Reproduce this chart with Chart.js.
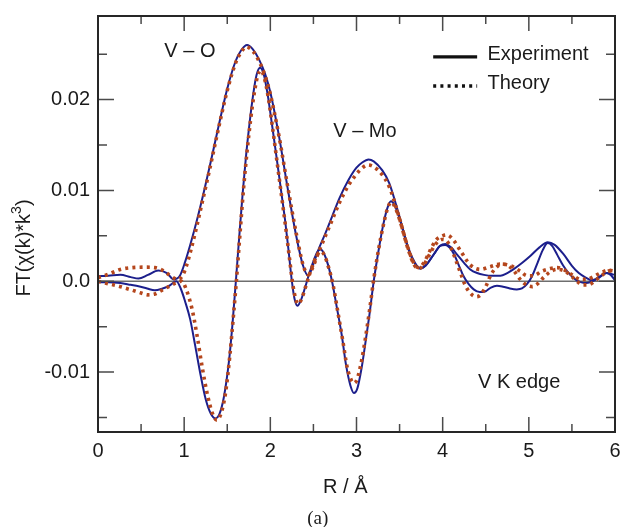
<!DOCTYPE html>
<html><head><meta charset="utf-8">
<script src="https://cdn.jsdelivr.net/npm/chart.js@4.4.1/dist/chart.umd.min.js"></script>
<style>html,body{margin:0;padding:0;background:#fff;} canvas{display:block;}</style>
</head><body>
<canvas id="c" width="621" height="527"></canvas>
<script>
// ---------- data ----------
const expMagR = [0,0.12,0.26,0.38,0.47,0.58,0.70,0.80,0.88,0.95,1.01,1.1,1.2,1.3,1.4,1.5,1.6,1.66,1.73,1.8,1.87,1.94,2.0,2.1,2.2,2.3,2.38,2.44,2.5,2.56,2.64,2.72,2.8,2.91,3.0,3.07,3.14,3.2,3.3,3.38,3.49,3.6,3.68,3.74,3.8,3.9,3.97,4.03,4.1,4.17,4.25,4.32,4.4,4.48,4.57,4.67,4.75,4.82,4.92,5.02,5.12,5.22,5.3,5.4,5.5,5.58,5.66,5.73,5.8,5.9,6.0];
const expMagV = [0.00055,0.0006,0.0007,0.00045,0.0003,0.0007,0.00118,0.0009,0.0002,0.0006,0.0021,0.0050,0.0087,0.0128,0.0171,0.0212,0.0243,0.0254,0.0260,0.0255,0.0244,0.0228,0.0208,0.0160,0.0103,0.0050,0.0017,0.0006,0.0019,0.0035,0.0053,0.0072,0.0091,0.0112,0.0125,0.0131,0.0134,0.0132,0.0122,0.0108,0.0074,0.0037,0.0020,0.0014,0.0017,0.0030,0.0039,0.0041,0.0037,0.0029,0.0020,0.0013,0.0009,0.0007,0.0006,0.0006,0.0009,0.0013,0.0020,0.0028,0.0037,0.0043,0.0040,0.0030,0.0017,0.0009,0.0004,0.0001,0.0003,0.0009,0.0007];

const expImR = [0,0.12,0.26,0.38,0.47,0.57,0.66,0.75,0.82,0.91,0.96,1.01,1.07,1.13,1.19,1.25,1.31,1.36,1.41,1.46,1.52,1.56,1.6,1.64,1.68,1.72,1.76,1.8,1.84,1.88,1.92,1.97,2.02,2.06,2.12,2.17,2.21,2.25,2.28,2.315,2.35,2.4,2.45,2.5,2.55,2.585,2.62,2.67,2.72,2.77,2.83,2.88,2.93,2.97,3.01,3.06,3.1,3.15,3.2,3.26,3.31,3.36,3.4,3.44,3.5,3.6,3.68,3.74,3.8,3.9,3.97,4.03,4.08,4.13,4.19,4.24,4.3,4.36,4.43,4.5,4.56,4.63,4.7,4.78,4.86,4.92,4.98,5.04,5.1,5.16,5.22,5.27,5.33,5.4,5.47,5.54,5.6,5.67,5.74,5.82,5.9,5.95,6.0];
const expImV = [-0.0001,-0.0001,-0.0002,-0.0004,-0.00055,-0.0008,-0.0010,-0.0008,-0.00055,0.0,-0.0008,-0.0022,-0.0042,-0.0072,-0.0103,-0.0130,-0.0146,-0.0151,-0.0146,-0.0128,-0.0088,-0.0048,0.0,0.0050,0.0098,0.0140,0.0175,0.0205,0.0227,0.0235,0.0229,0.0205,0.0172,0.0145,0.0103,0.0068,0.0035,0.0,-0.0019,-0.0027,-0.0022,-0.0008,0.0008,0.0022,0.0033,0.0035,0.0031,0.0018,-0.0002,-0.0028,-0.0060,-0.0093,-0.0115,-0.0123,-0.0118,-0.0095,-0.0070,-0.0037,0.0,0.0036,0.0062,0.0081,0.0088,0.0084,0.0069,0.0036,0.0019,0.0014,0.0017,0.0030,0.0039,0.0040,0.0037,0.0030,0.0017,0.0006,-0.0003,-0.0009,-0.0012,-0.0011,-0.0007,-0.0005,-0.0006,-0.0008,-0.0009,-0.0008,-0.0003,0.0006,0.0020,0.0034,0.0042,0.0039,0.0029,0.0017,0.0008,0.0002,-0.0001,-0.0002,0.0,0.0005,0.0009,0.0007,0.0001];

const thMagR = [0,0.13,0.26,0.4,0.55,0.66,0.75,0.84,0.92,0.98,1.03,1.08,1.15,1.2,1.3,1.4,1.5,1.6,1.66,1.72,1.8,1.87,1.94,2.0,2.1,2.2,2.3,2.38,2.44,2.5,2.56,2.64,2.72,2.8,2.91,3.0,3.07,3.13,3.2,3.3,3.38,3.49,3.6,3.67,3.72,3.78,3.85,3.92,4.0,4.05,4.12,4.21,4.32,4.44,4.55,4.67,4.79,4.9,4.98,5.05,5.15,5.25,5.33,5.42,5.52,5.6,5.67,5.75,5.85,5.92,6.0];
const thMagV = [0.0004,0.0008,0.0013,0.0015,0.00155,0.0015,0.0012,0.0006,0.0002,0.0006,0.0018,0.0035,0.0062,0.0083,0.0125,0.0169,0.0210,0.0241,0.0252,0.0258,0.0253,0.0242,0.0226,0.0206,0.0160,0.0105,0.0053,0.0018,0.0007,0.0017,0.0032,0.0050,0.0068,0.0086,0.0106,0.0118,0.0125,0.0128,0.0126,0.0117,0.0104,0.0072,0.0036,0.0019,0.0015,0.0020,0.0033,0.0045,0.0050,0.0051,0.0046,0.0033,0.0018,0.0013,0.0016,0.0019,0.0017,0.0011,0.0006,0.0006,0.0011,0.0014,0.0015,0.0012,0.0006,0.0002,0.0002,0.0005,0.0010,0.0012,0.0011];

const thImR = [0,0.13,0.26,0.4,0.5,0.58,0.66,0.74,0.82,0.9,0.97,1.02,1.09,1.15,1.21,1.27,1.33,1.38,1.43,1.48,1.53,1.57,1.61,1.65,1.69,1.73,1.77,1.81,1.85,1.89,1.93,1.98,2.03,2.08,2.13,2.18,2.22,2.26,2.29,2.32,2.36,2.41,2.46,2.51,2.55,2.59,2.63,2.68,2.73,2.78,2.84,2.89,2.94,2.975,3.01,3.06,3.1,3.15,3.2,3.26,3.31,3.36,3.4,3.44,3.5,3.6,3.67,3.72,3.78,3.85,3.92,3.99,4.04,4.09,4.15,4.2,4.26,4.32,4.39,4.44,4.5,4.56,4.62,4.69,4.76,4.83,4.9,4.97,5.04,5.1,5.18,5.26,5.33,5.42,5.5,5.57,5.63,5.69,5.76,5.84,5.92,6.0];
const thImV = [0.0,-0.0003,-0.0006,-0.0010,-0.0013,-0.0015,-0.0014,-0.0010,-0.0006,-0.0002,0.0,-0.0008,-0.0030,-0.0060,-0.0095,-0.0125,-0.0146,-0.0153,-0.0145,-0.0123,-0.0082,-0.0040,0.0005,0.0055,0.0103,0.0143,0.0177,0.0205,0.0225,0.0232,0.0224,0.0200,0.0166,0.0130,0.0094,0.0058,0.0027,-0.0003,-0.0018,-0.0025,-0.0020,-0.0006,0.0009,0.0022,0.0030,0.0033,0.0028,0.0014,-0.0005,-0.0032,-0.0065,-0.0094,-0.0109,-0.0112,-0.0107,-0.0087,-0.0065,-0.0033,0.0002,0.0037,0.0061,0.0080,0.0087,0.0083,0.0068,0.0035,0.0018,0.0014,0.0018,0.0030,0.0041,0.0046,0.0045,0.0038,0.0024,0.0011,-0.0004,-0.0013,-0.0017,-0.0015,-0.0006,0.0007,0.0015,0.0019,0.0017,0.0011,0.0002,-0.0004,-0.0006,-0.0003,0.0005,0.0011,0.0013,0.0011,0.0005,-0.0001,-0.0004,-0.0004,0.0,0.0006,0.0011,0.0012];

const seriesNames = ['Experiment','Theory'];
const xTickValues = [0,1,2,3,4,5,6];
const xTickLabels = ['0','1','2','3','4','5','6'];
const yTickValues = [-0.01,0,0.01,0.02];
const yTickLabels = ['-0.01','0.0','0.01','0.02'];
const peakLabels = ['V \u2013 O','V \u2013 Mo','V K edge'];
const xTitle = 'R / \u00C5';
const caption = '(a)';

// ---------- styling ----------
const BLUE = '#1c1f8c';
const BROWN = '#b5461c';
const FONT = '"Liberation Sans", Arial, Helvetica, sans-serif';
const pts = (r, v) => r.map((x, i) => ({x: x, y: v[i]}));

const solid = {borderColor: BLUE, borderWidth: 2, pointRadius: 0, fill: false, cubicInterpolationMode: 'monotone', order: 1};
const dotted = {borderColor: BROWN, borderWidth: 3.6, borderDash: [3, 4.2], borderCapStyle: 'butt', pointRadius: 0, fill: false, cubicInterpolationMode: 'monotone', order: 0};

const decor = {
  id: 'decor',
  beforeDatasetsDraw(chart) {
    const {ctx, chartArea: a, scales: {y}} = chart;
    const y0 = y.getPixelForValue(0);
    ctx.save();
    ctx.strokeStyle = '#6e6e6e'; ctx.lineWidth = 1.5;
    ctx.beginPath(); ctx.moveTo(a.left, y0); ctx.lineTo(a.right, y0); ctx.stroke();
    ctx.restore();
  },
  afterDatasetsDraw(chart) {
    const {ctx, chartArea: a, scales: {x, y}} = chart;
    ctx.save();
    // inward ticks
    ctx.strokeStyle = '#4a4a4a'; ctx.lineWidth = 1.5;
    ctx.beginPath();
    for (let i = 0; i <= 12; i++) {
      const px = x.getPixelForValue(i * 0.5);
      const L = (i % 2 === 0) ? 15 : 8;
      ctx.moveTo(px, a.bottom); ctx.lineTo(px, a.bottom - L);
      ctx.moveTo(px, a.top); ctx.lineTo(px, a.top + L);
    }
    for (let j = -3; j <= 5; j++) {
      const py = y.getPixelForValue(j * 0.005);
      const L = (j % 2 === 0) ? 16 : 9;
      ctx.moveTo(a.left, py); ctx.lineTo(a.left + L, py);
      ctx.moveTo(a.right, py); ctx.lineTo(a.right - L, py);
    }
    ctx.stroke();
    // frame
    ctx.strokeStyle = '#262626'; ctx.lineWidth = 2;
    ctx.strokeRect(a.left, a.top, a.right - a.left, a.bottom - a.top);

    // annotations
    ctx.fillStyle = '#1a1a1a';
    ctx.font = '20px ' + FONT;
    ctx.textBaseline = 'middle'; ctx.textAlign = 'left';
    ctx.fillText(peakLabels[0], x.getPixelForValue(0.77), y.getPixelForValue(0.0253));
    ctx.fillText(peakLabels[1], x.getPixelForValue(2.73), y.getPixelForValue(0.0165));
    ctx.fillText(peakLabels[2], x.getPixelForValue(4.41), y.getPixelForValue(-0.0112));

    // legend
    const lx0 = x.getPixelForValue(3.89), lx1 = x.getPixelForValue(4.40), tx = x.getPixelForValue(4.52);
    const ly0 = y.getPixelForValue(0.0247), ly1 = y.getPixelForValue(0.0215);
    ctx.strokeStyle = '#111'; ctx.lineWidth = 3.2; ctx.setLineDash([]);
    ctx.beginPath(); ctx.moveTo(lx0, ly0); ctx.lineTo(lx1, ly0); ctx.stroke();
    ctx.lineWidth = 3.6; ctx.setLineDash([3, 4.2]);
    ctx.beginPath(); ctx.moveTo(lx0, ly1); ctx.lineTo(lx1, ly1); ctx.stroke();
    ctx.setLineDash([]);
    ctx.fillText(seriesNames[0], tx, ly0 - 2);
    ctx.fillText(seriesNames[1], tx, ly1 - 2);

    // axis titles
    ctx.textAlign = 'center';
    ctx.fillText(xTitle, x.getPixelForValue(2.87), 487);
    ctx.font = '19px "Liberation Serif", "Times New Roman", serif';
    ctx.fillText(caption, x.getPixelForValue(2.55), 519);

    // y title with superscript
    ctx.save();
    ctx.translate(24, 248);
    ctx.rotate(-Math.PI / 2);
    ctx.textAlign = 'left';
    const f1 = '20px ' + FONT, f2 = '14px ' + FONT;
    const p1 = 'FT(\u03C7(k)*k', p2 = '3', p3 = ')';
    ctx.font = f1; const w1 = ctx.measureText(p1).width, w3 = ctx.measureText(p3).width;
    ctx.font = f2; const w2 = ctx.measureText(p2).width;
    let sx = -(w1 + w2 + w3) / 2;
    ctx.font = f1; ctx.fillText(p1, sx, 0); sx += w1;
    ctx.font = f2; ctx.fillText(p2, sx, -7); sx += w2;
    ctx.font = f1; ctx.fillText(p3, sx, 0);
    ctx.restore();
    ctx.restore();
  }
};

new Chart(document.getElementById('c').getContext('2d'), {
  type: 'line',
  data: {
    datasets: [
      Object.assign({label: seriesNames[0] + ' |FT|', data: pts(expMagR, expMagV)}, solid),
      Object.assign({label: seriesNames[0] + ' Im', data: pts(expImR, expImV)}, solid),
      Object.assign({label: seriesNames[1] + ' |FT|', data: pts(thMagR, thMagV)}, dotted),
      Object.assign({label: seriesNames[1] + ' Im', data: pts(thImR, thImV)}, dotted)
    ]
  },
  options: {
    responsive: false,
    animation: false,
    devicePixelRatio: 1,
    layout: {padding: {top: 16, right: 6, left: 0, bottom: 0}},
    plugins: {legend: {display: false}, tooltip: {enabled: false}},
    scales: {
      x: {
        type: 'linear', min: 0, max: 6,
        afterFit: s => { s.height = 95; s.paddingLeft = 0; s.paddingRight = 0; },
        afterBuildTicks: s => { s.ticks = xTickValues.map(v => ({value: v})); },
        ticks: {callback: (v, i) => xTickLabels[i], font: {size: 20, family: FONT}, color: '#1a1a1a', padding: 7, maxRotation: 0, autoSkip: false},
        grid: {display: false, drawTicks: false},
        border: {display: false}
      },
      y: {
        type: 'linear', min: -0.0166, max: 0.0292,
        afterFit: s => { s.width = 98; s.paddingTop = 0; s.paddingBottom = 0; },
        afterBuildTicks: s => { s.ticks = yTickValues.map(v => ({value: v})); },
        ticks: {callback: (v, i) => yTickLabels[i], font: {size: 20, family: FONT}, color: '#1a1a1a', padding: 8, autoSkip: false},
        grid: {display: false, drawTicks: false},
        border: {display: false}
      }
    }
  },
  plugins: [decor]
});
</script>
</body></html>
